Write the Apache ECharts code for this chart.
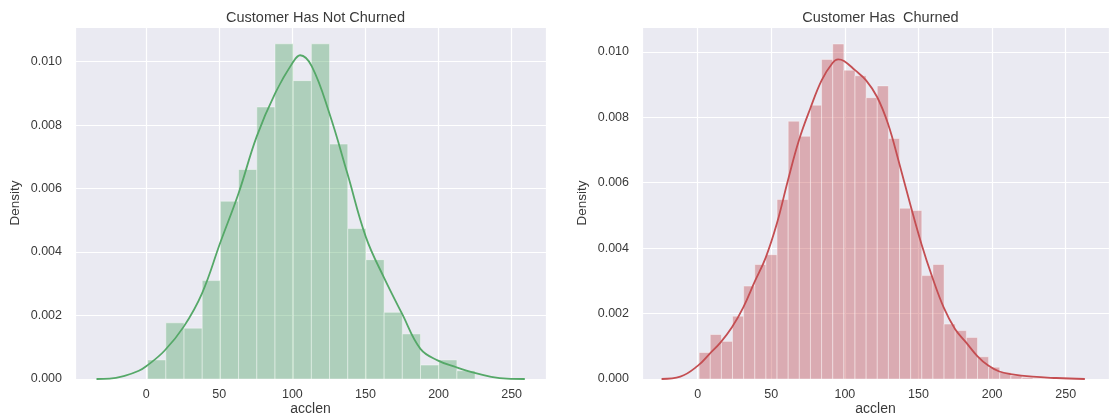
<!DOCTYPE html>
<html>
<head>
<meta charset="utf-8">
<script src="https://cdn.jsdelivr.net/npm/echarts@6/dist/echarts.min.js"></script>
<style>
html,body{margin:0;padding:0;background:#fff;}
#chart{width:1109px;height:415px;}
</style>
</head>
<body>
<div id="chart"></div>
<script>
// ---------- data ----------
const titles = ['Customer Has Not Churned', 'Customer Has  Churned'];
const xLabel = 'acclen';
const yLabel = 'Density';

// Left: not churned histogram (18 bins from 1 to 225)
const notChurnBinStart = 1;
const notChurnBinWidth = 12.444;
const notChurnHeights = [0.0006, 0.00177, 0.0016, 0.0031, 0.0056, 0.0066, 0.00857, 0.01056, 0.0094,
  0.01056, 0.0074, 0.00474, 0.00376, 0.0021, 0.00142, 0.00044, 0.0006, 0.00026];
const notChurnKdeX = [-34, -25, -14.8, -5, 0, 12.5, 25.7, 38.2, 50.7, 63.2, 75.5, 88.2, 100.7, 105.3,
  113.3, 125.3, 137.6, 150.3, 162.6, 175.1, 187.6, 199.7, 212.2, 224.7, 236, 246.7, 259];
const notChurnKdeY = [0, 0.00001, 0.0001, 0.00026, 0.0004, 0.00089, 0.00165, 0.0027, 0.0043, 0.00585,
  0.00763, 0.009, 0.01, 0.0102, 0.00985, 0.00837, 0.00648, 0.00447, 0.0032, 0.00205, 0.00095,
  0.00058, 0.00037, 0.00019, 0.00007, 0.00001, 0];

// Right: churned histogram (32 bins from 1 to 243)
const churnBinStart = 1;
const churnBinWidth = 7.5625;
const churnHeights = [0.00081, 0.00136, 0.00115, 0.00192, 0.00284, 0.0035, 0.0038, 0.00549, 0.00788,
  0.00742, 0.00837, 0.00977, 0.01024, 0.00944, 0.00927, 0.0086, 0.00896, 0.00735, 0.00522, 0.00515,
  0.00316, 0.0035, 0.00168, 0.00148, 0.00127, 0.00068, 0.00036, 0.0002, 0.0001, 0.00005, 0.00002, 0.00002];
const churnKdeX = [-24.5, -11.8, 0, 8.1, 15.6, 23.3, 31, 38.6, 46.3, 53.8, 61.3, 68.8, 76.5, 84.2, 91.6,
  95.4, 99.4, 106.9, 114.4, 121.9, 129.3, 137, 144.3, 152, 159.4, 167.1, 174.8, 182.3, 189.8, 197.4,
  204.9, 212.5, 227.4, 243.7, 263];
const churnKdeY = [0, 0.00007, 0.0004, 0.00077, 0.00112, 0.00158, 0.00219, 0.00296, 0.00372, 0.00475,
  0.00607, 0.0073, 0.00827, 0.00913, 0.00966, 0.00977, 0.00972, 0.00944, 0.00913, 0.00862, 0.0078,
  0.00658, 0.00536, 0.00413, 0.00311, 0.00219, 0.00153, 0.00112, 0.00071, 0.00041, 0.00023, 0.00015,
  0.00007, 0.00003, 0];

const xTickStep = 50;
const yTickStep = 0.002;

// ---------- build options ----------
const green = '#55a868';
const red = '#c44e52';
const FONT = '"Liberation Sans", Arial, sans-serif';
const textColor = '#3a3a3a';

function binsData(start, width, heights) {
  return heights.map((h, i) => [start + i * width, start + (i + 1) * width, h]);
}
function zip(xs, ys) { return xs.map((x, i) => [x, ys[i]]); }

function histRender(color) {
  return function (params, api) {
    const p0 = api.coord([api.value(0), 0]);
    const p1 = api.coord([api.value(1), api.value(2)]);
    return {
      type: 'rect',
      shape: { x: p0[0], y: p1[1], width: p1[0] - p0[0], height: p0[1] - p1[1] },
      style: { fill: color, stroke: '#ffffff', lineWidth: 1, opacity: 0.4 }
    };
  };
}

function xAxis(idx, min, max) {
  return {
    type: 'value', gridIndex: idx, min: min, max: max,
    minInterval: xTickStep, maxInterval: xTickStep,
    name: xLabel, nameLocation: 'middle', nameGap: 23, nameMoveOverlap: false,
    nameTextStyle: { color: textColor, fontSize: 14, fontFamily: FONT },
    axisLine: { show: false }, axisTick: { show: false },
    axisLabel: { color: textColor, fontSize: 12.5, fontFamily: FONT, margin: 9,
      showMinLabel: false, showMaxLabel: false },
    splitLine: { show: true, lineStyle: { color: '#ffffff', width: 1.2 } }
  };
}
function yAxis(idx, max) {
  return {
    type: 'value', gridIndex: idx, min: 0, max: max, interval: yTickStep,
    name: yLabel, nameLocation: 'middle', nameGap: 53, nameRotate: 90, nameMoveOverlap: false,
    nameTextStyle: { color: textColor, fontSize: 13.5, fontFamily: FONT },
    axisLine: { show: false }, axisTick: { show: false },
    axisLabel: { color: textColor, fontSize: 12.5, fontFamily: FONT, margin: 13,
      showMaxLabel: false, formatter: v => v.toFixed(3) },
    splitLine: { show: true, lineStyle: { color: '#ffffff', width: 1.2 } }
  };
}

const option = {
  animation: false,
  backgroundColor: '#ffffff',
  title: [
    { text: titles[0], left: 310.5, top: 5, textAlign: 'center',
      textStyle: { color: textColor, fontSize: 14.5, fontWeight: 'normal', fontFamily: FONT } },
    { text: titles[1], left: 875.5, top: 5, textAlign: 'center',
      textStyle: { color: textColor, fontSize: 14.5, fontWeight: 'normal', fontFamily: FONT } }
  ],
  grid: [
    { left: 75, right: 563, top: 27, bottom: 36, show: true, backgroundColor: '#eaeaf2', borderWidth: 0,
      containLabel: false, outerBoundsMode: 'none' },
    { left: 642, right: 0, top: 27, bottom: 36, show: true, backgroundColor: '#eaeaf2', borderWidth: 0,
      containLabel: false, outerBoundsMode: 'none' }
  ],
  xAxis: [xAxis(0, -48.7, 273.5), xAxis(1, -37.8, 279.4)],
  yAxis: [yAxis(0, 0.01109), yAxis(1, 0.01076)],
  series: [
    { type: 'custom', xAxisIndex: 0, yAxisIndex: 0, renderItem: histRender(green),
      encode: { x: [0, 1], y: 2 }, data: binsData(notChurnBinStart, notChurnBinWidth, notChurnHeights), z: 2 },
    { type: 'line', xAxisIndex: 0, yAxisIndex: 0, data: zip(notChurnKdeX, notChurnKdeY),
      smooth: 0.4, showSymbol: false, symbol: 'none', lineStyle: { color: green, width: 1.8 }, z: 3 },
    { type: 'custom', xAxisIndex: 1, yAxisIndex: 1, renderItem: histRender(red),
      encode: { x: [0, 1], y: 2 }, data: binsData(churnBinStart, churnBinWidth, churnHeights), z: 2 },
    { type: 'line', xAxisIndex: 1, yAxisIndex: 1, data: zip(churnKdeX, churnKdeY),
      smooth: 0.4, showSymbol: false, symbol: 'none', lineStyle: { color: red, width: 1.8 }, z: 3 }
  ]
};

const chart = echarts.init(document.getElementById('chart'), null, { renderer: 'canvas' });
chart.setOption(option);
</script>
</body>
</html>
